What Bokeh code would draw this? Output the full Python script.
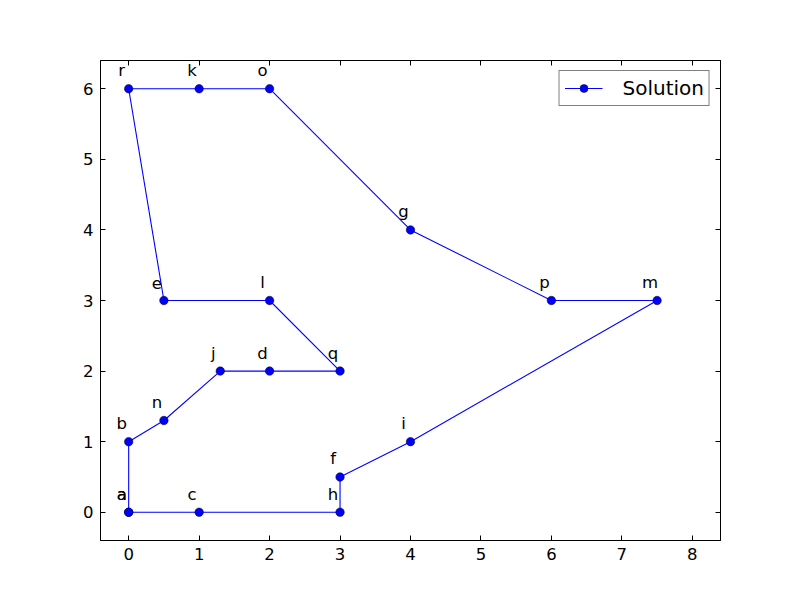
from bokeh.plotting import figure
from bokeh.models import ColumnDataSource, LinearAxis, Range1d, Legend, LegendItem, FixedTicker
from bokeh.core.properties import value
from bokeh.embed import file_html
from bokeh.resources import INLINE

names = ["a", "c", "h", "f", "i", "m", "p", "g", "o", "k", "r", "e", "l", "q", "d", "j", "n", "b", "a"]
xs = [0, 1, 3, 3, 4, 7.5, 6, 4, 2, 1, 0, 0.5, 2, 3, 2, 1.3, 0.5, 0, 0]
ys = [0, 0, 0, 0.5, 1, 3, 3, 4, 6, 6, 6, 3, 3, 2, 2, 2, 1.3, 1, 0]
x_ticks = [0, 1, 2, 3, 4, 5, 6, 7, 8]
y_ticks = [0, 1, 2, 3, 4, 5, 6]

FONT = "DejaVu Sans"

p = figure(width=792, height=592, output_backend="svg", toolbar_location=None,
           x_range=Range1d(-0.4, 8.4), y_range=Range1d(-0.4, 6.4),
           min_border_left=100, min_border_right=72, min_border_top=60, min_border_bottom=52,
           frame_width=620, frame_height=480, x_axis_location=None, y_axis_location=None)
p.background_fill_color = "white"
p.border_fill_color = "white"
p.outline_line_color = "black"
p.outline_line_width = 1
p.xgrid.visible = False
p.ygrid.visible = False

def make_axis(ticks, labels):
    ax = LinearAxis(ticker=FixedTicker(ticks=ticks))
    ax.axis_line_color = "black"
    ax.major_tick_in = 5
    ax.major_tick_out = 0
    ax.minor_tick_line_color = None
    ax.major_tick_line_color = "black"
    ax.major_label_text_font = FONT
    ax.major_label_text_color = "black"
    ax.major_label_text_font_size = "16.5px"
    ax.major_label_standoff = 7
    if not labels:
        ax.major_label_overrides = {t: "" for t in ticks}
        ax.major_label_standoff = 0
    return ax

p.add_layout(make_axis(x_ticks, True), "below")
p.add_layout(make_axis(y_ticks, True), "left")
p.add_layout(make_axis(x_ticks, False), "above")
p.add_layout(make_axis(y_ticks, False), "right")

src = ColumnDataSource(dict(x=xs, y=ys, name=names))
line = p.line("x", "y", source=src, line_color="#0000ff", line_width=1.1)
pts = p.scatter("x", "y", source=src, size=8.5, fill_color="#0000ff", line_color="black", line_width=0.5)
p.text("x", "y", text="name", source=src, x_offset=-7, y_offset=-18,
       text_align="center", text_baseline="alphabetic",
       text_font=value(FONT), text_font_size="16.5px", text_color="black")

legend = Legend(items=[LegendItem(label="Solution", renderers=[line, pts])],
                location="top_right")
legend.border_line_color = "black"
legend.border_line_width = 1
legend.label_text_font = FONT
legend.label_text_font_size = "20px"
legend.label_text_color = "black"
legend.glyph_width = 38
legend.glyph_height = 20
legend.label_height = 20
legend.margin = 10
legend.padding = 5
legend.label_standoff = 20
legend.background_fill_alpha = 1
p.add_layout(legend)

open("out.html", "w").write(file_html(p, INLINE))
